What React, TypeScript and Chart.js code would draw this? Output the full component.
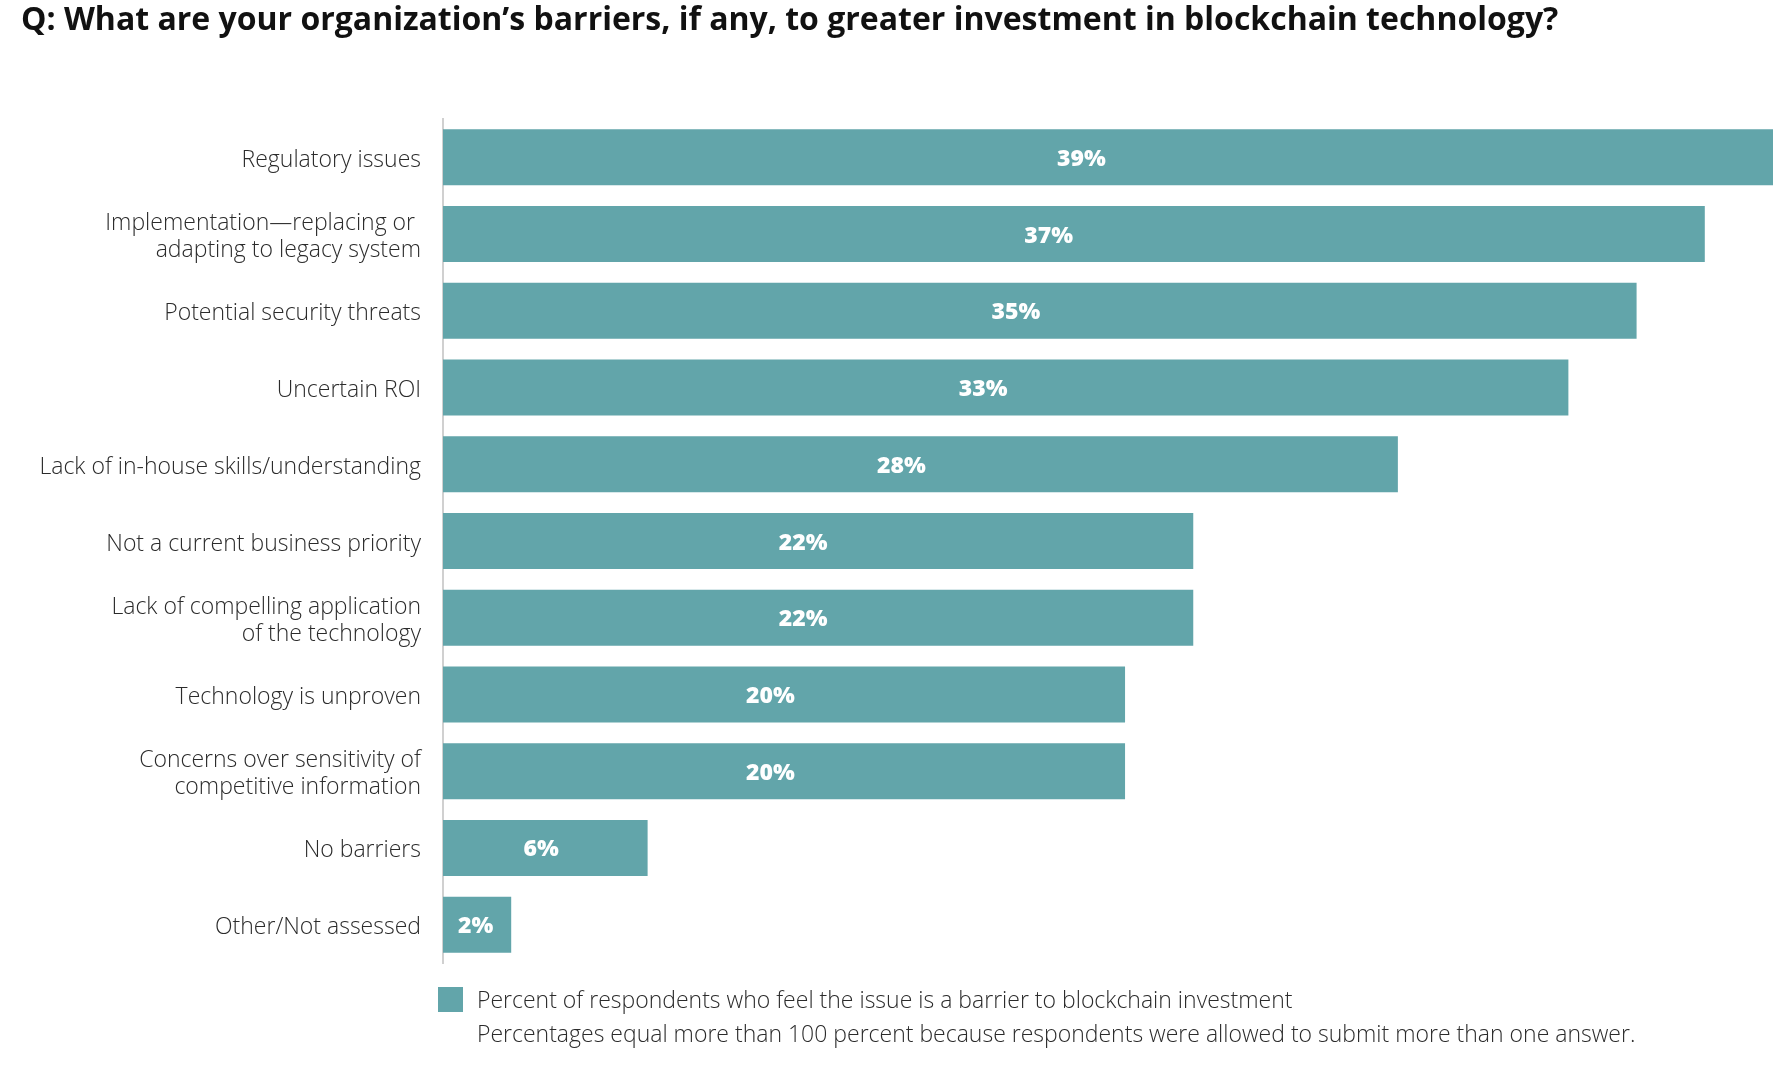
import React, { useEffect, useRef } from "react";
import { Chart, registerables } from "chart.js";

Chart.register(...registerables);

const categories: (string | string[])[] = [
  "Regulatory issues",
  ["Implementation\u2014replacing or ", "adapting to legacy system"],
  "Potential security threats",
  "Uncertain ROI",
  "Lack of in-house skills/understanding",
  "Not a current business priority",
  ["Lack of compelling application", "of the technology"],
  "Technology is unproven",
  ["Concerns over sensitivity of", "competitive information"],
  "No barriers",
  "Other/Not assessed",
];

const values: number[] = [39, 37, 35, 33, 28, 22, 22, 20, 20, 6, 2];

const titleText =
  "Q: What are your organization\u2019s barriers, if any, to greater investment in blockchain technology?";
const legendText = "Percent of respondents who feel the issue is a barrier to blockchain investment";
const noteText =
  "Percentages equal more than 100 percent because respondents were allowed to submit more than one answer.";

const TEAL = "#62a5aa";
const FONT = "'Open Sans', 'Noto Sans', sans-serif";

const barLabels = {
  id: "barLabels",
  afterDatasetsDraw(chart: any) {
    const ctx = chart.ctx;
    const meta = chart.getDatasetMeta(0);
    ctx.save();
    ctx.fillStyle = "#ffffff";
    ctx.font = `800 23px ${FONT}`;
    ctx.textAlign = "center";
    ctx.textBaseline = "middle";
    meta.data.forEach((el: any, i: number) => {
      const { x, y, base } = el.getProps(["x", "y", "base"], true);
      const cx = base + (x - base) * 0.48;
      ctx.fillText(`${values[i]}%`, cx, y + 2);
    });
    ctx.restore();
  },
};

export default function App() {
  const canvasRef = useRef<HTMLCanvasElement | null>(null);

  useEffect(() => {
    document.body.style.margin = "0";
    const chart = new Chart(canvasRef.current as HTMLCanvasElement, {
      type: "bar",
      data: {
        labels: categories,
        datasets: [
          {
            label: legendText,
            data: values,
            backgroundColor: TEAL,
            borderWidth: 0,
            categoryPercentage: 1,
            barPercentage: 0.73,
          },
        ],
      },
      options: {
        indexAxis: "y",
        animation: false,
        responsive: true,
        maintainAspectRatio: false,
        layout: { padding: { left: 0, right: 19, top: 119, bottom: 103 } },
        plugins: {
          legend: { display: false },
          title: { display: false },
          tooltip: { enabled: false },
        },
        scales: {
          x: { display: false, min: 0, max: 39 },
          y: {
            grid: { display: false, drawTicks: false },
            border: { display: true, color: "#d0d0d0", width: 2 },
            ticks: {
              padding: 22,
              labelOffset: 3,
              color: "#2b2b2b",
              font: { family: FONT, size: 23, weight: 300 as any, lineHeight: 1.17 },
            },
            afterFit(scale: any) {
              scale.width = 443;
            },
          },
        },
      },
      plugins: [barLabels],
    });
    return () => chart.destroy();
  }, []);

  return (
    <div style={{ position: "absolute", left: 0, top: 0, width: 1792, height: 1066, background: "#fff" }}>
      <canvas ref={canvasRef} />
      <div
        style={{
          position: "absolute",
          left: 21,
          top: -1,
          fontFamily: FONT,
          fontWeight: 700,
          fontSize: 32,
          lineHeight: "38px",
          color: "#111",
          whiteSpace: "nowrap",
        }}
      >
        {titleText}
      </div>
      <div
        style={{
          position: "absolute",
          left: 438,
          top: 987,
          width: 25,
          height: 25,
          background: TEAL,
        }}
      />
      <div
        style={{
          position: "absolute",
          left: 477,
          top: 982,
          fontFamily: FONT,
          fontWeight: 300,
          fontSize: 23,
          lineHeight: "34px",
          color: "#2b2b2b",
          whiteSpace: "nowrap",
        }}
      >
        <div>{legendText}</div>
        <div>{noteText}</div>
      </div>
    </div>
  );
}
